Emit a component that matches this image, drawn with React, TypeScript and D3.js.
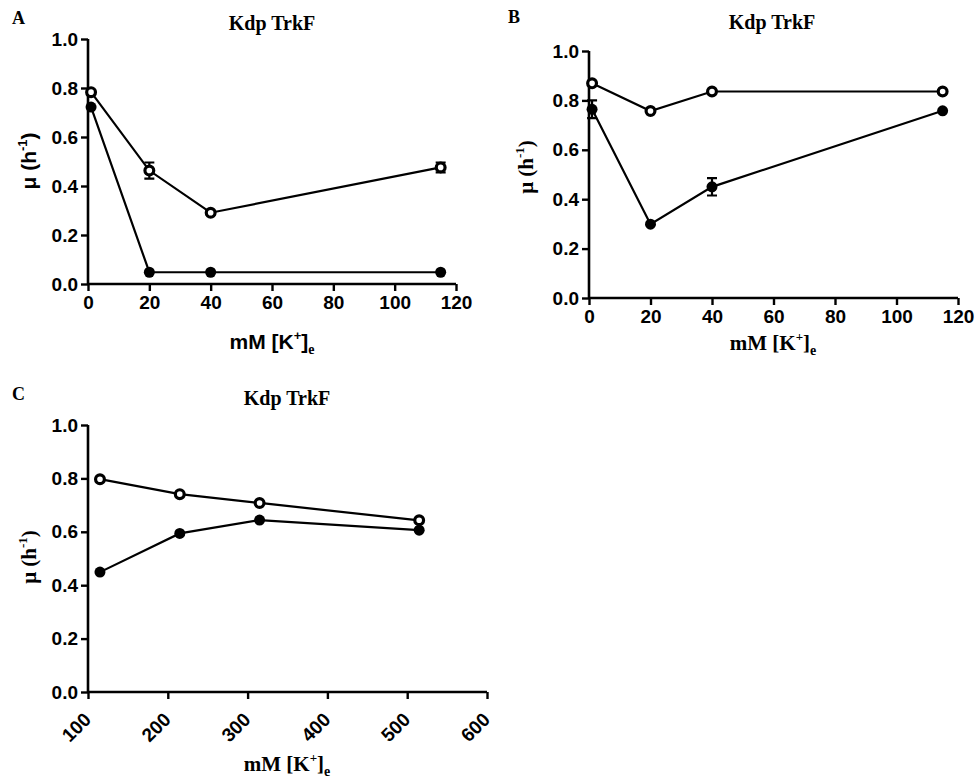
import React, { useEffect, useRef } from "react";
import * as d3 from "d3";

// values
const kAB = [1, 20, 40, 115];
const openA = [0.783, 0.463, 0.291, 0.476];
const openAErr = [0.008, 0.033, 0.008, 0.02];
const filledA = [0.722, 0.048, 0.048, 0.048];
const filledAErr = [0, 0, 0, 0];

const openB = [0.869, 0.757, 0.836, 0.836];
const openBErr = [0, 0, 0, 0];
const filledB = [0.764, 0.299, 0.45, 0.758];
const filledBErr = [0.036, 0, 0.035, 0];

const kC = [115, 215, 315, 515];
const openC = [0.797, 0.741, 0.708, 0.643];
const filledC = [0.449, 0.594, 0.644, 0.606];
const noErr = [0, 0, 0, 0];

const yTicks = [0, 0.2, 0.4, 0.6, 0.8, 1.0];
const xTicksAB = [0, 20, 40, 60, 80, 100, 120];
const xTicksC = [100, 200, 300, 400, 500, 600];

const SANS = "'Liberation Sans', Arial, sans-serif";
const SERIF = "'Liberation Serif', 'Times New Roman', serif";

type PanelCfg = {
  letter: string;
  lx: number;
  ly: number;
  left: number;
  right: number;
  top: number;
  bottom: number;
  xDomain: [number, number];
  xTicks: number[];
  rotateX: boolean;
  xs: number[];
  open: number[];
  openErr: number[];
  filled: number[];
  filledErr: number[];
  titleX: number;
  titleY: number;
  yLabX: number;
  yLabY: number;
  yLabFont: string;
  xLabX: number;
  xLabY: number;
  xLabFont: string;
};

const panels: PanelCfg[] = [
  {
    letter: "A", lx: 12, ly: 24,
    left: 88, right: 456, top: 39, bottom: 284,
    xDomain: [0, 120], xTicks: xTicksAB, rotateX: false,
    xs: kAB, open: openA, openErr: openAErr, filled: filledA, filledErr: filledAErr,
    titleX: 272, titleY: 30,
    yLabX: 36, yLabY: 161, yLabFont: SANS,
    xLabX: 272, xLabY: 349, xLabFont: SANS,
  },
  {
    letter: "B", lx: 508, ly: 23,
    left: 589, right: 958, top: 51, bottom: 298,
    xDomain: [0, 120], xTicks: xTicksAB, rotateX: false,
    xs: kAB, open: openB, openErr: openBErr, filled: filledB, filledErr: filledBErr,
    titleX: 772, titleY: 29,
    yLabX: 533, yLabY: 167, yLabFont: SERIF,
    xLabX: 773, xLabY: 350, xLabFont: SERIF,
  },
  {
    letter: "C", lx: 12, ly: 400,
    left: 88, right: 487, top: 425, bottom: 692,
    xDomain: [100, 600], xTicks: xTicksC, rotateX: true,
    xs: kC, open: openC, openErr: noErr, filled: filledC, filledErr: noErr,
    titleX: 287, titleY: 405,
    yLabX: 36, yLabY: 557, yLabFont: SERIF,
    xLabX: 287, xLabY: 771, xLabFont: SERIF,
  },
];

function drawPanel(svg: d3.Selection<SVGSVGElement, unknown, null, undefined>, p: PanelCfg) {
  const g = svg.append("g");
  const x = d3.scaleLinear().domain(p.xDomain).range([p.left, p.right]);
  const y = d3.scaleLinear().domain([0, 1]).range([p.bottom, p.top]);

  // panel letter + title
  g.append("text").attr("x", p.lx).attr("y", p.ly).attr("font-family", SERIF)
    .attr("font-weight", "bold").attr("font-size", 18).text(p.letter);
  g.append("text").attr("x", p.titleX).attr("y", p.titleY).attr("font-family", SERIF)
    .attr("font-weight", "bold").attr("font-size", 20).attr("text-anchor", "middle").text("Kdp TrkF");

  // axes
  const yAxis = d3.axisLeft(y).tickValues(yTicks).tickSize(7).tickPadding(3).tickFormat(d3.format(".1f"));
  const ya = g.append("g").attr("transform", `translate(${p.left},0)`).call(yAxis);
  const xAxis = d3.axisBottom(x).tickValues(p.xTicks).tickSize(7).tickPadding(5).tickFormat(d3.format("d"));
  const xa = g.append("g").attr("transform", `translate(0,${p.bottom})`).call(xAxis);
  [ya, xa].forEach((a) => {
    a.select(".domain").attr("stroke-width", 2.6).attr("d",
      a === ya ? `M0,${p.bottom}V${p.top}` : `M${p.left},0H${p.right}`);
    a.selectAll(".tick line").attr("stroke-width", 2.4);
    a.selectAll("text").attr("font-family", SANS).attr("font-weight", "bold").attr("font-size", 19).attr("fill", "#000");
  });
  if (p.rotateX) {
    xa.selectAll(".tick text")
      .attr("text-anchor", "end")
      .attr("dy", "0.35em")
      .attr("transform", "translate(-1,24) rotate(-45)")
      .attr("y", 0);
  }

  // y label
  const yl = g.append("text").attr("transform", `translate(${p.yLabX},${p.yLabY}) rotate(-90)`)
    .attr("text-anchor", "middle").attr("font-family", p.yLabFont).attr("font-weight", "bold").attr("font-size", 21);
  yl.append("tspan").text("\u03bc (h");
  yl.append("tspan").attr("font-size", 13).attr("dy", -9).text("-1");
  yl.append("tspan").attr("dy", 9).text(")");

  // x label
  const xl = g.append("text").attr("x", p.xLabX).attr("y", p.xLabY)
    .attr("text-anchor", "middle").attr("font-family", p.xLabFont).attr("font-weight", "bold").attr("font-size", 21);
  xl.append("tspan").text("mM [K");
  xl.append("tspan").attr("font-size", 13).attr("dy", -9).text("+");
  xl.append("tspan").attr("dy", 9).text("]");
  xl.append("tspan").attr("font-size", 14).attr("font-family", SERIF).attr("dy", 5).text("e");

  const line = d3.line<number>().x((_, i) => x(p.xs[i])).y((d) => y(d));

  const series = [
    { vals: p.filled, err: p.filledErr, open: false },
    { vals: p.open, err: p.openErr, open: true },
  ];
  series.forEach((s) => {
    g.append("path").attr("d", line(s.vals)).attr("fill", "none").attr("stroke", "#000").attr("stroke-width", 2.2);
    s.vals.forEach((v, i) => {
      const e = s.err[i];
      if (e > 0) {
        const cx = x(p.xs[i]);
        g.append("path")
          .attr("d", `M${cx},${y(v - e)}V${y(v + e)}M${cx - 5},${y(v - e)}H${cx + 5}M${cx - 5},${y(v + e)}H${cx + 5}`)
          .attr("stroke", "#000").attr("stroke-width", 2.2).attr("fill", "none");
      }
    });
  });
  series.forEach((s) => {
    g.selectAll(null).data(s.vals).join("circle")
      .attr("cx", (_, i) => x(p.xs[i]))
      .attr("cy", (d) => y(d))
      .attr("r", s.open ? 4.4 : 5.5)
      .attr("fill", s.open ? "#fff" : "#000")
      .attr("stroke", "#000")
      .attr("stroke-width", s.open ? 3.2 : 0);
  });
}

export default function App() {
  const ref = useRef<SVGSVGElement>(null);
  useEffect(() => {
    const svg = d3.select(ref.current!);
    svg.selectAll("*").remove();
    panels.forEach((p) => drawPanel(svg, p));
  }, []);
  return (
    <svg ref={ref} width={976} height={779}
      style={{ position: "absolute", left: 0, top: 0, background: "#fff" }} />
  );
}
